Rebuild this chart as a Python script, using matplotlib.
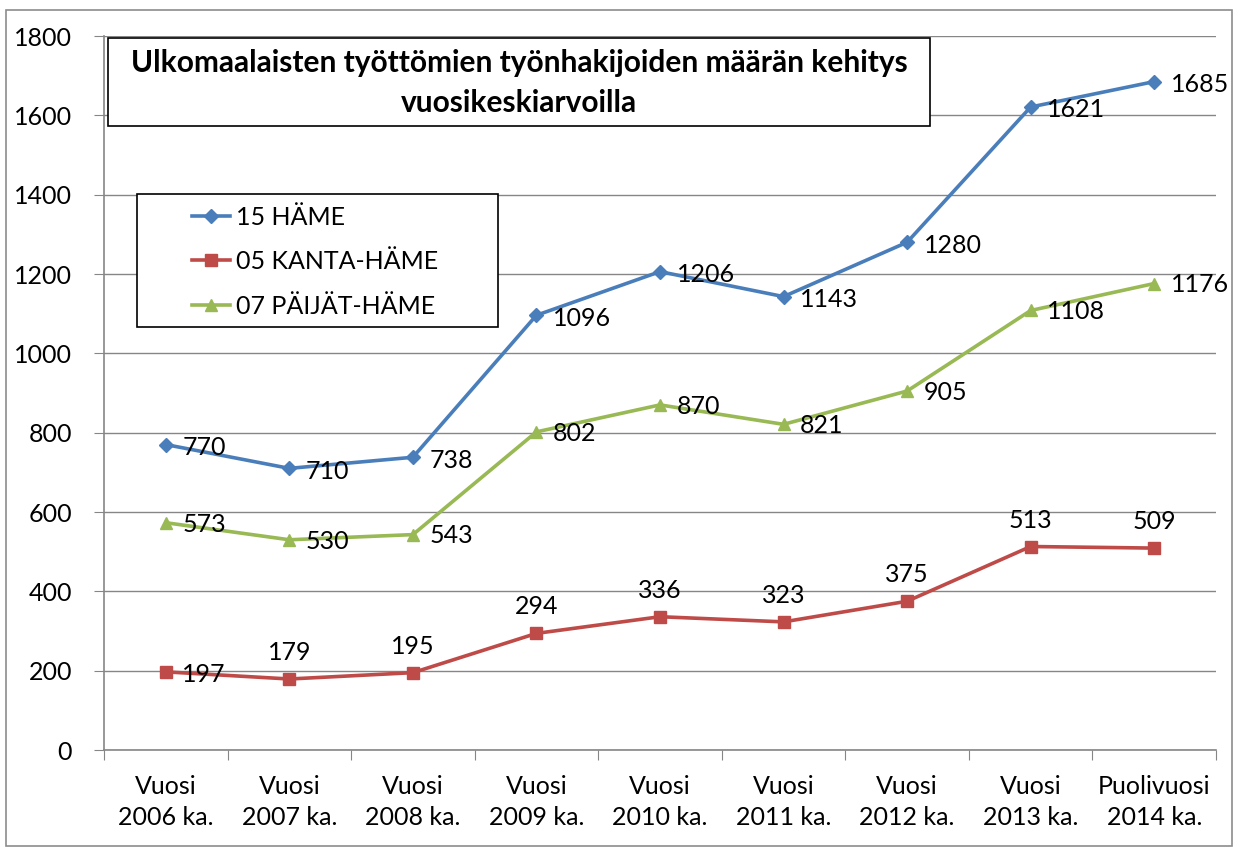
import matplotlib
matplotlib.use("Agg")
import matplotlib.pyplot as plt
from matplotlib.patches import Rectangle

# Data
categories = [
    "Vuosi\n2006 ka.", "Vuosi\n2007 ka.", "Vuosi\n2008 ka.", "Vuosi\n2009 ka.",
    "Vuosi\n2010 ka.", "Vuosi\n2011 ka.", "Vuosi\n2012 ka.", "Vuosi\n2013 ka.",
    "Puolivuosi\n2014 ka.",
]
hame = [770, 710, 738, 1096, 1206, 1143, 1280, 1621, 1685]
kanta_hame = [197, 179, 195, 294, 336, 323, 375, 513, 509]
paijat_hame = [573, 530, 543, 802, 870, 821, 905, 1108, 1176]
# where the red labels sit relative to their point
kanta_label_pos = ["right", "above", "above", "above", "above", "above", "above", "above", "above"]

title = "Ulkomaalaisten työttömien työnhakijoiden määrän kehitys\nvuosikeskiarvoilla"

BLUE = "#4A7EBB"
RED = "#BE4B48"
GREEN = "#98B954"
GRID = "#868686"

plt.rcParams["font.family"] = ["Lato", "DejaVu Sans"]
FS = 18

W, H = 1239, 847
fig = plt.figure(figsize=(W / 100, H / 100), dpi=100)
fig.patch.set_facecolor("white")


def fx(px):
    return px / W


def fy(py):
    return 1 - py / H


# outer chart border
fig.patches.append(Rectangle((fx(6), fy(846)), fx(1232) - fx(6), fy(10) - fy(846),
                             transform=fig.transFigure, fill=False,
                             edgecolor="#8C8C8C", linewidth=1.2, zorder=0))

ax = fig.add_axes([fx(104), fy(750), fx(1216) - fx(104), fy(36) - fy(750)])
x = list(range(len(categories)))

ax.plot(x, hame, color=BLUE, lw=2.6, marker="D", ms=7, label="15 HÄME", zorder=4)
ax.plot(x, kanta_hame, color=RED, lw=2.6, marker="s", ms=8, label="05 KANTA-HÄME", zorder=4)
ax.plot(x, paijat_hame, color=GREEN, lw=2.6, marker="^", ms=9, label="07 PÄIJÄT-HÄME", zorder=4)

# data labels
for xi, v in zip(x, hame):
    ax.annotate(str(v), (xi, v), xytext=(12, -2), textcoords="offset points",
                ha="left", va="center", fontsize=FS, zorder=5)
for xi, v in zip(x, paijat_hame):
    ax.annotate(str(v), (xi, v), xytext=(12, -1), textcoords="offset points",
                ha="left", va="center", fontsize=FS, zorder=5)
for xi, v, pos in zip(x, kanta_hame, kanta_label_pos):
    off = (12, -2) if pos == "right" else (0, 19)
    ha = "left" if pos == "right" else "center"
    ax.annotate(str(v), (xi, v), xytext=off, textcoords="offset points",
                ha=ha, va="center", fontsize=FS, zorder=5)

ax.set_xlim(-0.5, len(categories) - 0.5)
ax.set_ylim(0, 1800)
ax.set_yticks(range(0, 1801, 200))
ax.yaxis.grid(True, color=GRID, lw=1)
ax.set_axisbelow(True)

ax.set_xticks([i - 0.5 for i in range(len(categories) + 1)])
ax.set_xticklabels([])
ax.set_xticks(x, minor=True)
ax.set_xticklabels(categories, minor=True, fontsize=FS, linespacing=1.4)
ax.tick_params(axis="x", which="minor", length=0, pad=18)
ax.tick_params(axis="x", which="major", length=7, color=GRID, direction="out")
ax.tick_params(axis="y", length=7, color=GRID, labelsize=FS, pad=16)

for s in ("top", "right"):
    ax.spines[s].set_visible(False)
for s in ("left", "bottom"):
    ax.spines[s].set_color(GRID)
    ax.spines[s].set_linewidth(1.2)

# title box
ax.add_patch(Rectangle((fx(108), fy(126)), fx(930) - fx(108), fy(38) - fy(126),
                       transform=fig.transFigure, facecolor="white", clip_on=False,
                       edgecolor="black", linewidth=1.2, zorder=6))
ax.text(fx(519), fy(83), title, transform=fig.transFigure, ha="center", va="center",
        fontsize=21.5, fontweight="bold", linespacing=1.5, zorder=7)

# legend box
ax.add_patch(Rectangle((fx(137), fy(327)), fx(498) - fx(137), fy(194) - fy(327),
                       transform=fig.transFigure, facecolor="white", clip_on=False,
                       edgecolor="black", linewidth=1.2, zorder=6))
leg = ax.legend(loc="upper left", bbox_to_anchor=(fx(192), fy(206)),
                bbox_transform=fig.transFigure, frameon=False, fontsize=FS,
                handlelength=1.5, handletextpad=0.25, labelspacing=0.85,
                borderaxespad=0, borderpad=0)
leg.set_zorder(8)

fig.savefig("out.png", dpi=100, facecolor="white")
